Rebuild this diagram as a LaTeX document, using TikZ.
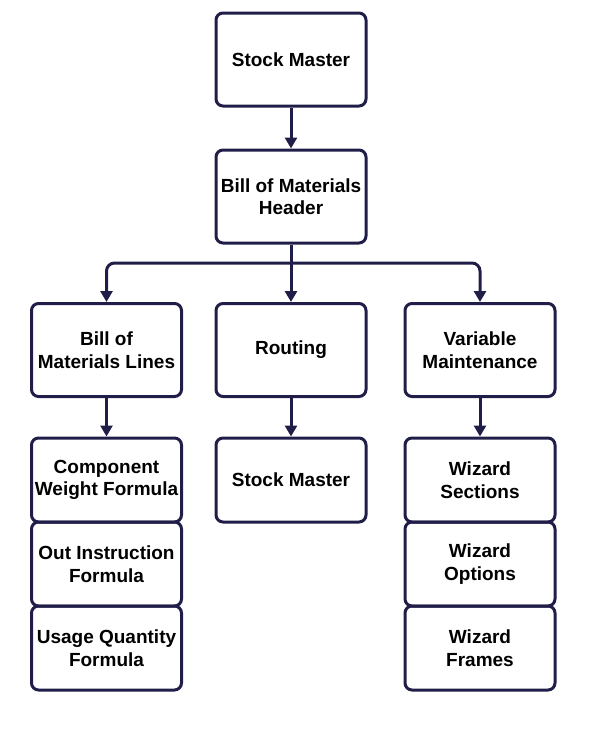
\documentclass[tikz,border=0pt]{standalone}
\usepackage{fontspec}
\setmainfont{Liberation Sans}
\usetikzlibrary{arrows.meta}
\definecolor{boxline}{RGB}{32,30,72}

\begin{document}
\begin{tikzpicture}[x=1pt, y=-1pt, >={Triangle[width=12pt,length=11pt]},
    box/.style={draw=boxline, line width=3pt, rounded corners=7pt, minimum width=150pt,
      minimum height=93pt, align=center, inner sep=0pt,
      font=\fontsize{19}{22.5}\selectfont\bfseries},
    sub/.style={box, minimum height=84pt},
    link/.style={draw=boxline, line width=3pt}]
    \useasboundingbox (0,0) rectangle (594,731);
    \node[box] (stock) at (291,59.5) {Stock Master};
    \node[box] (hdr) at (291,196.5) {Bill of Materials\\Header};
    \node[box] (bml) at (106.5,350) {Bill of\\Materials Lines};
    \node[box] (rout) at (291,350) {Routing};
    \node[box] (var) at (480,350) {Variable\\Maintenance};
    \node[sub] (comp) at (106.5,480) {Component\\Weight Formula};
    \node[sub] (outf) at (106.5,564) {Out Instruction\\Formula};
    \node[sub] (usage) at (106.5,648) {Usage Quantity\\Formula};
    \node[sub] (stock2) at (291,480) {Stock Master};
    \node[sub] (wsec) at (480,480) {Wizard\\Sections};
    \node[sub] (wopt) at (480,564) {Wizard\\Options};
    \node[sub] (wfrm) at (480,648) {Wizard\\Frames};
    \coordinate (bus) at (291,263);
    \draw[link,->] (stock) -- (hdr);
    \draw[link] (hdr) -- (bus);
    \draw[link,->,rounded corners=8pt] (bus) -| (bml.north);
    \draw[link,->,rounded corners=8pt] (bus) -| (var.north);
    \draw[link,->] (bus) -- (rout);
    \draw[link,->] (bml) -- (comp);
    \draw[link,->] (rout) -- (stock2);
    \draw[link,->] (var) -- (wsec);
\end{tikzpicture}
\end{document}
